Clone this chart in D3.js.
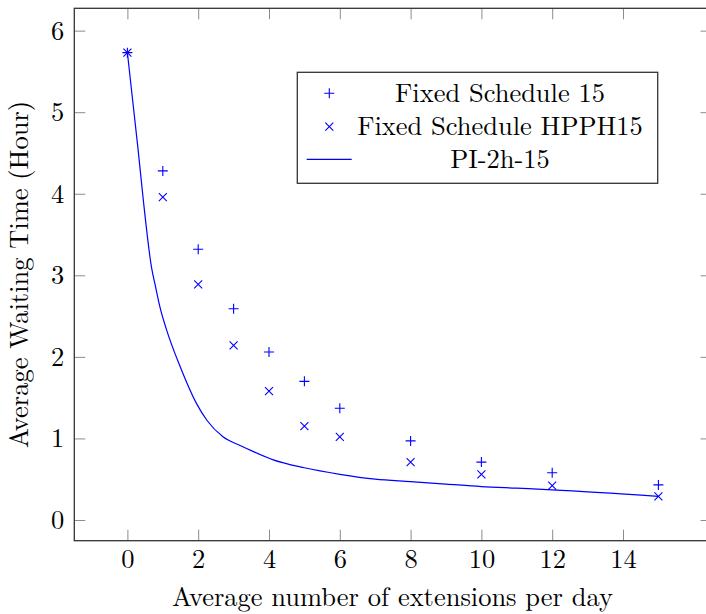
<!DOCTYPE html>
<html>
<head>
<meta charset="utf-8">
<script src="https://cdn.jsdelivr.net/npm/d3@7"></script>
<style>
  html, body { margin: 0; padding: 0; background: #fff; }
  svg { display: block; }
</style>
</head>
<body>
<svg id="chart" width="706" height="614"></svg>
<script>
// ---------- data ----------
const fixedX = [0, 1, 2, 3, 4, 5, 6, 8, 10, 12, 15];
const fixed15 = [5.73, 4.28, 3.32, 2.59, 2.06, 1.70, 1.37, 0.97, 0.71, 0.58, 0.43];
const fixedHPPH15 = [5.73, 3.96, 2.89, 2.14, 1.58, 1.15, 1.02, 0.71, 0.56, 0.42, 0.29];
const piX = [0, 0.3, 0.45, 0.68, 0.8, 0.92, 1.1, 1.5, 1.95, 2.25, 2.7, 3.2, 3.5, 4.1, 5, 6, 7, 8, 9, 10, 11, 12, 15];
const piY = [5.73, 4.55, 3.92, 3.10, 2.85, 2.61, 2.34, 1.87, 1.43, 1.22, 1.02, 0.91, 0.85, 0.74, 0.64, 0.56, 0.50, 0.47, 0.44, 0.41, 0.39, 0.37, 0.29];
const xTicks = [0, 2, 4, 6, 8, 10, 12, 14];
const yTicks = [0, 1, 2, 3, 4, 5, 6];
const legendLabels = ["Fixed Schedule 15", "Fixed Schedule HPPH15", "PI-2h-15"];
const xTitle = "Average number of extensions per day";
const yTitle = "Average Waiting Time (Hour)";

// ---------- layout ----------
const FONT = '"Latin Modern Roman", "Liberation Serif", serif';
const svg = d3.select("#chart");
const L = 74.3, R = 711.5, T = 8.3, B = 540.7;
const blue = "#0000ff";

const x = d3.scaleLinear().domain([-1.5, 16.5]).range([L, R]);
const y = d3.scaleLinear().domain([-0.254, 6.274]).range([B, T]);

// calibrate font size to the reference title width
const probe = svg.append("text").style("font-family", FONT).attr("font-size", 100).text(xTitle);
const fs = 100 * 441 / probe.node().getComputedTextLength();
probe.remove();

// custom marker types
const plusType = { draw(ctx, size) { const r = Math.sqrt(size) / 2; ctx.moveTo(-r, 0); ctx.lineTo(r, 0); ctx.moveTo(0, -r); ctx.lineTo(0, r); } };
const crossType = { draw(ctx, size) { const r = Math.sqrt(size) / 2; ctx.moveTo(-r, -r); ctx.lineTo(r, r); ctx.moveTo(-r, r); ctx.lineTo(r, -r); } };
const plusSym = d3.symbol().type(plusType).size(100);
const crossSym = d3.symbol().type(crossType).size(64);

// ---------- axes ----------
const tickColor = "#8c8c8c";
function styleAxis(g) {
  g.select(".domain").remove();
  g.selectAll(".tick line").attr("stroke", tickColor).attr("stroke-width", 1);
  g.selectAll(".tick text").attr("font-size", fs).attr("fill", "#000").style("font-family", FONT);
}
svg.append("g").attr("transform", `translate(0,${B})`)
  .call(d3.axisBottom(x).tickValues(xTicks).tickSizeInner(-11).tickSizeOuter(0).tickPadding(27.5 - 0.71 * fs).tickFormat(d3.format("d")))
  .call(styleAxis);
svg.append("g").attr("transform", `translate(0,${T})`)
  .call(d3.axisTop(x).tickValues(xTicks).tickSizeInner(-11).tickSizeOuter(0).tickFormat(""))
  .call(styleAxis);
svg.append("g").attr("transform", `translate(${L},0)`)
  .call(d3.axisLeft(y).tickValues(yTicks).tickSizeInner(-11).tickSizeOuter(0).tickPadding(10).tickFormat(d3.format("d")))
  .call(styleAxis);
svg.append("g").attr("transform", `translate(${R},0)`)
  .call(d3.axisRight(y).tickValues(yTicks).tickSizeInner(-11).tickSizeOuter(0).tickFormat(""))
  .call(styleAxis);

// frame
svg.append("rect").attr("x", L).attr("y", T).attr("width", R - L).attr("height", B - T)
  .attr("fill", "none").attr("stroke", "#333").attr("stroke-width", 1.3);

// ---------- series ----------
const line = d3.line().x((d, i) => x(piX[i])).y(d => y(d)).curve(d3.curveMonotoneX);
svg.append("path").datum(piY).attr("d", line)
  .attr("fill", "none").attr("stroke", blue).attr("stroke-width", 1.2).attr("stroke-linejoin", "round");

svg.append("g").selectAll("path").data(fixed15).join("path")
  .attr("transform", (d, i) => `translate(${x(fixedX[i])},${y(d)})`)
  .attr("d", plusSym).attr("fill", "none").attr("stroke", blue).attr("stroke-width", 1.1);
svg.append("g").selectAll("path").data(fixedHPPH15).join("path")
  .attr("transform", (d, i) => `translate(${x(fixedX[i])},${y(d)})`)
  .attr("d", crossSym).attr("fill", "none").attr("stroke", blue).attr("stroke-width", 1.1);

// ---------- titles ----------
svg.append("text").attr("x", 392.5).attr("y", 606).attr("text-anchor", "middle")
  .style("font-family", FONT).attr("font-size", fs).text(xTitle);
svg.append("text").attr("transform", `translate(28,${(T + B) / 2}) rotate(-90)`).attr("text-anchor", "middle")
  .style("font-family", FONT).attr("font-size", fs).text(yTitle);

// ---------- legend ----------
const lg = svg.append("g");
lg.append("rect").attr("x", 297.3).attr("y", 72.3).attr("width", 360.4).attr("height", 111)
  .attr("fill", "#fff").attr("stroke", "#333").attr("stroke-width", 1.3);
const rowY = [93.3, 126.7, 159.3];
legendLabels.forEach((lab, i) => {
  lg.append("text").attr("x", 500).attr("y", rowY[i] + 0.33 * fs).attr("text-anchor", "middle")
    .style("font-family", FONT).attr("font-size", fs).text(lab);
});
lg.append("path").attr("transform", `translate(329.3,${rowY[0]})`).attr("d", plusSym)
  .attr("fill", "none").attr("stroke", blue).attr("stroke-width", 1.1);
lg.append("path").attr("transform", `translate(329.3,${rowY[1]})`).attr("d", crossSym)
  .attr("fill", "none").attr("stroke", blue).attr("stroke-width", 1.1);
lg.append("line").attr("x1", 306.7).attr("x2", 351.7).attr("y1", rowY[2]).attr("y2", rowY[2])
  .attr("stroke", blue).attr("stroke-width", 1.2);
</script>
</body>
</html>
